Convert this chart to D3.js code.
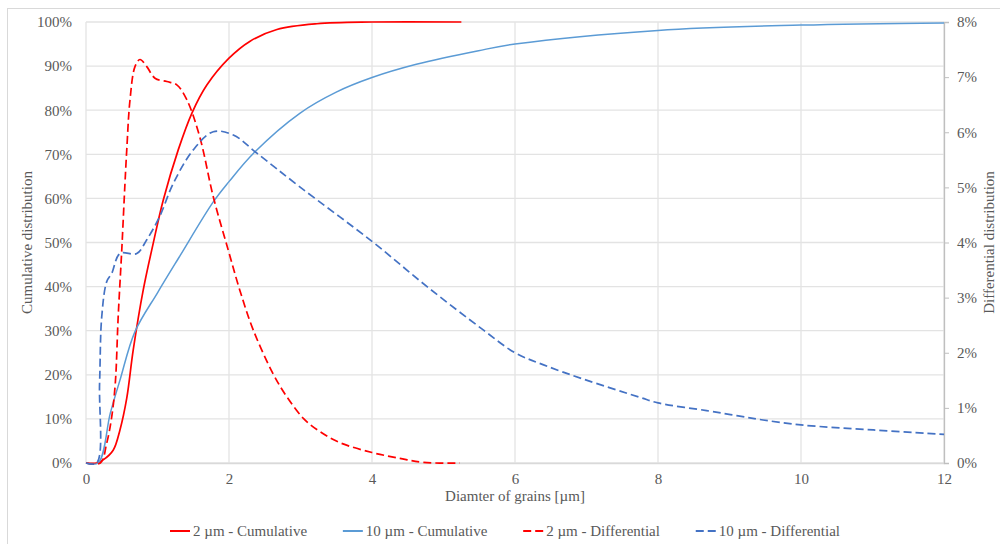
<!DOCTYPE html>
<html>
<head>
<meta charset="utf-8">
<script src="https://cdn.jsdelivr.net/npm/d3@7"></script>
<style>
  body { margin: 0; background: #fff; }
  svg { display: block; }
</style>
</head>
<body>
<div id="chart"></div>
<script>
// 2 µm powder - cumulative (left axis, %)
const cum2X = [0, 0.15, 0.24, 0.38, 0.475, 0.57, 0.66, 0.8, 0.94, 1.08, 1.29, 1.48, 1.69, 2.0, 2.29, 2.67, 3.23, 4.0, 5.25];
const cum2Y = [0, 0, 0.7, 2.9, 7.5, 14.7, 25.6, 39.2, 49.8, 59.6, 71, 79.3, 85.7, 91.8, 95.6, 98.3, 99.6, 100, 100];

// 10 µm powder - cumulative (left axis, %)
const cum10X = [0, 0.17, 0.34, 0.475, 0.685, 1.0, 1.3, 1.78, 2.0, 2.34, 2.99, 3.5, 4.0, 4.62, 5.49, 6, 8, 10, 12];
const cum10Y = [0, 0, 11.3, 18.8, 29.8, 38.6, 46.6, 59.2, 63.8, 70.2, 79.3, 84.1, 87.4, 90.4, 93.5, 95, 98.1, 99.3, 99.8];

// 2 µm powder - differential (right axis, %)
const diff2X = [0, 0.2, 0.29, 0.36, 0.41, 0.45, 0.5, 0.545, 0.57, 0.615, 0.685, 0.755, 0.85, 0.965, 1.13, 1.27, 1.41, 1.59, 1.78, 1.99, 2.15, 2.34, 2.62, 2.81, 3.04, 3.27, 3.55, 4.0, 4.39, 4.72, 5.23];
const diff2Y = [0, 0, 0.36, 0.84, 1.45, 2.65, 3.86, 5.07, 5.68, 6.58, 7.19, 7.32, 7.19, 6.98, 6.92, 6.86, 6.59, 5.92, 4.83, 3.86, 3.14, 2.41, 1.61, 1.2, 0.81, 0.57, 0.37, 0.19, 0.085, 0.01, 0];

// 10 µm powder - differential (right axis, %)
const diff10X = [0, 0.15, 0.19, 0.22, 0.29, 0.36, 0.475, 0.71, 0.85, 1.03, 1.22, 1.5, 1.78, 2.06, 2.39, 2.99, 4.0, 4.77, 5.56, 6.0, 6.4, 6.96, 7.75, 8.0, 8.68, 9.1, 9.47, 10, 11.01, 12];
const diff10Y = [0, 0, 1.45, 2.65, 3.29, 3.44, 3.8, 3.8, 4.05, 4.47, 5.07, 5.68, 6.01, 5.95, 5.62, 5.01, 4.02, 3.2, 2.41, 2.0, 1.78, 1.52, 1.19, 1.09, 0.95, 0.86, 0.78, 0.69, 0.6, 0.52];

const xTicks = [0, 2, 4, 6, 8, 10, 12];
const leftTicks = [0, 10, 20, 30, 40, 50, 60, 70, 80, 90, 100];
const rightTicks = [0, 1, 2, 3, 4, 5, 6, 7, 8];

const width = 1000;
const height = 544;
const margin = { top: 22, right: 56, bottom: 81, left: 86 };
const font = "'Liberation Serif', 'DejaVu Serif', serif";

const svg = d3.select('#chart').append('svg')
  .attr('width', width)
  .attr('height', height);

// chart frame
svg.append('rect')
  .attr('x', 7.5).attr('y', 8.5)
  .attr('width', 1000).attr('height', 545)
  .attr('fill', 'none')
  .attr('stroke', '#d9d9d9');

const x = d3.scaleLinear().domain([0, 12]).range([margin.left, width - margin.right]);
const yL = d3.scaleLinear().domain([0, 100]).range([height - margin.bottom, margin.top]);
const yR = d3.scaleLinear().domain([0, 8]).range([height - margin.bottom, margin.top]);

// grid
svg.append('g')
  .selectAll('line')
  .data(leftTicks)
  .join('line')
  .attr('x1', x(0)).attr('x2', x(12))
  .attr('y1', d => yL(d)).attr('y2', d => yL(d))
  .attr('stroke', '#e3e3e3')
  .attr('stroke-width', 1.3);

svg.append('g')
  .selectAll('line')
  .data(xTicks)
  .join('line')
  .attr('x1', d => x(d)).attr('x2', d => x(d))
  .attr('y1', yL(0)).attr('y2', yL(100))
  .attr('stroke', '#e3e3e3')
  .attr('stroke-width', 1.3);

// bottom axis
const xAxis = svg.append('g')
  .attr('transform', `translate(0,${yL(0)})`)
  .call(d3.axisBottom(x).tickValues(xTicks).tickSize(0).tickPadding(10));
xAxis.select('.domain').attr('stroke', '#d9d9d9').attr('stroke-width', 1.3);

// left axis
const yAxisL = svg.append('g')
  .attr('transform', `translate(${x(0)},0)`)
  .call(d3.axisLeft(yL).tickValues(leftTicks).tickSize(0).tickPadding(14).tickFormat(d => d + '%'));
yAxisL.select('.domain').remove();

// right axis
const yAxisR = svg.append('g')
  .attr('transform', `translate(${x(12)},0)`)
  .call(d3.axisRight(yR).tickValues(rightTicks).tickSize(5).tickPadding(8).tickFormat(d => d + '%'));
yAxisR.select('.domain').attr('stroke', '#bfbfbf').attr('stroke-width', 1.3);
yAxisR.selectAll('.tick line').attr('stroke', '#bfbfbf');

// axis titles
svg.append('text')
  .attr('transform', `translate(32,${(yL(0) + yL(100)) / 2}) rotate(-90)`)
  .attr('text-anchor', 'middle')
  .text('Cumulative distribution');

svg.append('text')
  .attr('transform', `translate(994,${(yL(0) + yL(100)) / 2}) rotate(-90)`)
  .attr('text-anchor', 'middle')
  .text('Differential distribution');

svg.append('text')
  .attr('x', (x(0) + x(12)) / 2)
  .attr('y', 501)
  .attr('text-anchor', 'middle')
  .text('Diamter of grains [µm]');

// series
const series = [
  { name: '2  µm - Cumulative', xs: cum2X, ys: cum2Y, scale: yL, color: '#ff0000', dash: null, w: 1.7 },
  { name: '10 µm - Cumulative', xs: cum10X, ys: cum10Y, scale: yL, color: '#5b9bd5', dash: null, w: 1.5 },
  { name: '2  µm - Differential', xs: diff2X, ys: diff2Y, scale: yR, color: '#ff0000', dash: '8,4', w: 1.7 },
  { name: '10 µm - Differential', xs: diff10X, ys: diff10Y, scale: yR, color: '#4472c4', dash: '8,4', w: 1.7 }
];

series.forEach(s => {
  const pts = s.xs.map((v, i) => [v, s.ys[i]]);
  const line = d3.line()
    .x(d => x(d[0]))
    .y(d => s.scale(d[1]))
    .curve(d3.curveCatmullRom.alpha(0.5));
  svg.append('path')
    .datum(pts)
    .attr('fill', 'none')
    .attr('stroke', s.color)
    .attr('stroke-width', s.w)
    .attr('stroke-dasharray', s.dash)
    .attr('d', line);
});

// legend
const legend = svg.append('g').attr('transform', 'translate(0,531)');
const items = series.map(s => {
  const g = legend.append('g');
  g.append('line')
    .attr('x1', 0).attr('x2', 20)
    .attr('y1', 0).attr('y2', 0)
    .attr('stroke', s.color)
    .attr('stroke-width', 2)
    .attr('stroke-dasharray', s.dash ? '8,4' : null);
  g.append('text')
    .attr('x', 23)
    .attr('y', 5)
    .text(s.name);
  return g;
});

// one font for every label
svg.selectAll('text')
  .style('font-family', font)
  .style('font-size', '15px')
  .style('fill', '#595959');

// spread legend entries evenly between 170 and 840
const widths = items.map(g => 23 + g.select('text').node().getComputedTextLength());
const gap = (840 - 170 - d3.sum(widths)) / (items.length - 1);
let pos = 170;
items.forEach((g, i) => {
  g.attr('transform', `translate(${pos},0)`);
  pos += widths[i] + gap;
});
</script>
</body>
</html>
